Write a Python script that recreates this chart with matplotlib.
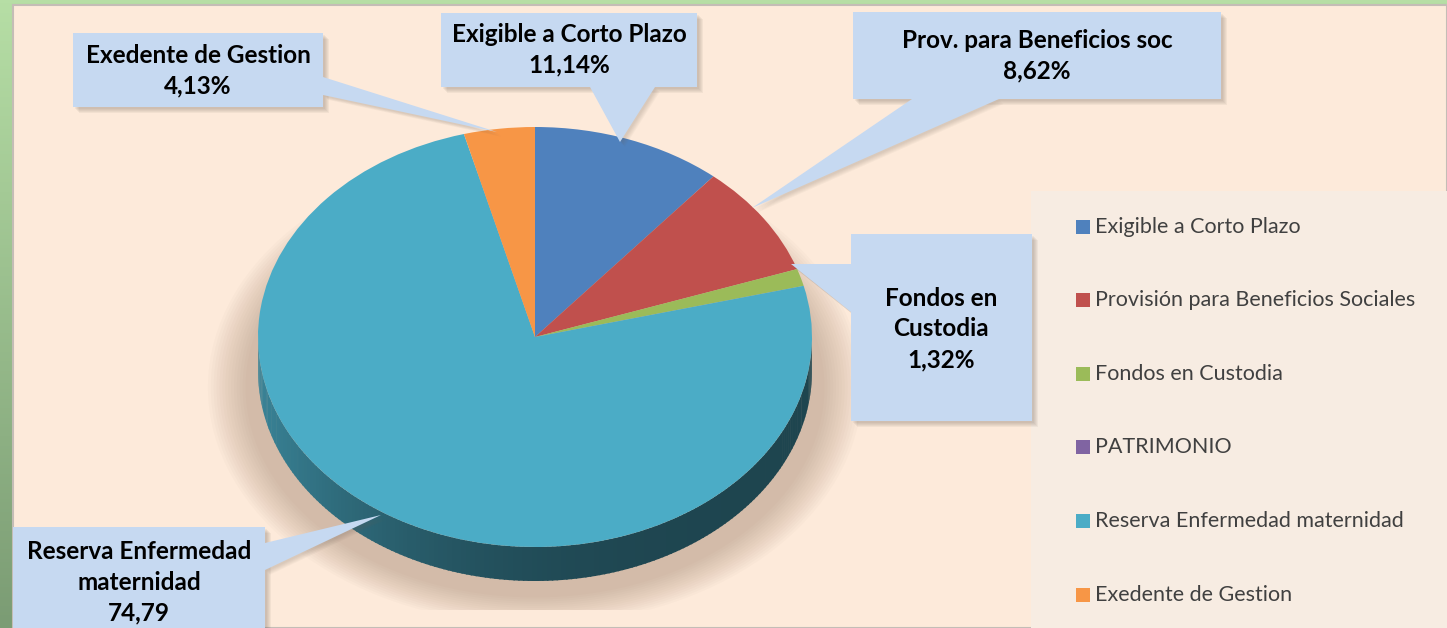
import matplotlib
matplotlib.use("Agg")
import matplotlib.pyplot as plt
import numpy as np
from matplotlib.patches import Rectangle, Polygon, Ellipse
from matplotlib.colors import to_rgb

# datos del grafico
categories = ["Exigible a Corto Plazo", "Provisión para Beneficios Sociales",
              "Fondos en Custodia", "PATRIMONIO",
              "Reserva Enfermedad maternidad", "Exedente de Gestion"]
values = [11.14, 8.62, 1.32, 0.0, 74.79, 4.13]
colors = ["#4F81BD", "#C0504D", "#9BBB59", "#8064A2", "#4BACC6", "#F79646"]
callout_names = ["Exigible a Corto Plazo", "Prov. para Beneficios soc",
                 "Fondos en\nCustodia", None,
                 "Reserva Enfermedad\nmaternidad", "Exedente de Gestion"]
callout_suffix = ["%", "%", "%", None, "", "%"]

W, H = 1447, 628
FONT = ["Lato", "DejaVu Sans"]

fig = plt.figure(figsize=(W / 100, H / 100), dpi=100)

# fondo en pixeles
bg = fig.add_axes([0, 0, 1, 1])
bg.set_xlim(0, W)
bg.set_ylim(H, 0)
bg.axis("off")
top_c = np.array(to_rgb("#B6DEA5"))
bot_c = np.array(to_rgb("#7B9C74"))
t = np.linspace(0, 1, 200)[:, None, None]
grad = top_c * (1 - t) + bot_c * t
bg.imshow(grad, extent=[0, W, H, 0], aspect="auto", zorder=0)
bg.add_patch(Rectangle((13, 5), W - 13, H - 5, fc="#FDEADA", ec="#C4BDB6", lw=1.5, zorder=1))
bg.add_patch(Rectangle((1031, 191), W - 1031, H - 191, fc="#F7ECE2", ec="none", zorder=1))

# pastel
cx, cy, rx, ry = 535, 337, 277, 210
depth = 34 / ry
ax = fig.add_axes([(cx - 1.3 * rx) / W, (H - cy - 1.3 * ry) / H, 2.6 * rx / W, 2.6 * ry / H])
ax.patch.set_visible(False)

# sombra
for i in range(14):
    s = 1.0 + 0.01 * i
    ax.add_patch(Ellipse((0.0, -0.24), 2 * 1.045 * s, 2 * 1.0 * s,
                         fc="#A0836A", ec="none", alpha=0.035, zorder=1))

wedges, _ = ax.pie(values, colors=colors, startangle=90, counterclock=False,
                   wedgeprops=dict(linewidth=0, zorder=5))
ax.set_aspect("auto")
ax.set_xlim(-1.3, 1.3)
ax.set_ylim(-1.3, 1.3)
ax.axis("off")

# lateral 3D
for w, c in zip(wedges, colors):
    t1, t2 = w.theta1, w.theta2
    base = np.array(to_rgb(c))
    for k in range(-2, 2):
        lo = max(t1, 180 + 360 * k)
        hi = min(t2, 360 + 360 * k)
        if hi <= lo:
            continue
        edges = np.linspace(lo, hi, int(hi - lo) + 2)
        for a0, a1 in zip(edges[:-1], edges[1:]):
            aa = np.radians(np.linspace(a0, a1 + 0.3, 4))
            xs, ys = np.cos(aa), np.sin(aa)
            pts = np.concatenate([np.c_[xs, ys], np.c_[xs[::-1], ys[::-1] - depth]])
            am = np.radians((a0 + a1) / 2)
            f = 0.40 + 0.36 * ((1 - np.cos(am)) / 2) ** 3
            ax.add_patch(Polygon(pts, fc=base * f, ec="none", zorder=4))

# etiquetas tipo llamada
ov = fig.add_axes([0, 0, 1, 1])
ov.set_xlim(0, W)
ov.set_ylim(H, 0)
ov.axis("off")
ov.patch.set_visible(False)

box_fc = "#C6D9F1"
boxes = {
    0: ((441, 13, 697, 87), [(590, 87), (655, 87), (620, 142)], (569, 50)),
    1: ((853, 12, 1221, 99), [(912, 99), (999, 99), (752, 208)], (1037, 56)),
    2: ((851, 234, 1032, 421), [(851, 264), (851, 312), (791, 264)], (941, 329)),
    4: ((13, 527, 265, 640), [(265, 543), (265, 570), (381, 515)], (139, 582)),
    5: ((73, 33, 323, 107), [(323, 77), (323, 95), (497, 132)], (198, 71)),
}
for i, (rect, tri, tpos) in boxes.items():
    x0, y0, x1, y1 = rect
    for k in range(5):
        o = 2 + k
        ov.add_patch(Rectangle((x0 + o, y0 + o), x1 - x0, y1 - y0, fc="#6E6258",
                               ec="none", alpha=0.07, zorder=2))
        ov.add_patch(Polygon(np.array(tri) + o * 0.8, fc="#6E6258", ec="none",
                             alpha=0.05, zorder=2))
    ov.add_patch(Rectangle((x0, y0), x1 - x0, y1 - y0, fc=box_fc, ec="none", zorder=3))
    ov.add_patch(Polygon(tri, fc=box_fc, ec="none", zorder=3))
    txt = callout_names[i] + "\n" + f"{values[i]:.2f}".replace(".", ",") + callout_suffix[i]
    ov.text(tpos[0], tpos[1], txt, ha="center", va="center", fontsize=17.5,
            fontweight="bold", family=FONT, color="black", linespacing=1.4, zorder=4)

# leyenda
row_y = [227, 300, 374, 447, 521, 595]
for name, c, yy in zip(categories, colors, row_y):
    ov.add_patch(Rectangle((1076, yy - 7), 14, 14, fc=c, ec="none", zorder=4))
    ov.text(1095, yy, name, ha="left", va="center", fontsize=15.5, family=FONT,
            color="#404040", zorder=4)

fig.savefig("out.png", dpi=100)
